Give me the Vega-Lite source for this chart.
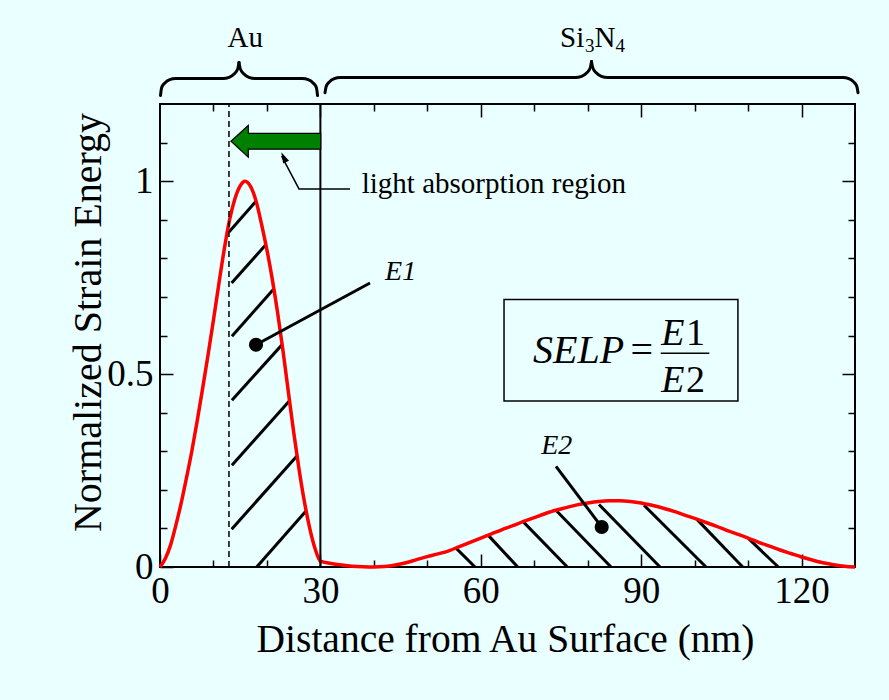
{
  "$schema": "https://vega.github.io/schema/vega-lite/v6.json",
  "width": 695,
  "height": 463,
  "autosize": {"type": "none"},
  "padding": {"left": 160, "top": 104, "right": 34, "bottom": 133},
  "background": "#eaffff",
  "config": {
    "view": {"stroke": "black", "strokeWidth": 2},
    "font": "Liberation Serif",
    "text": {"font": "Liberation Serif", "color": "black"}
  },
  "resolve": {"axis": {"x": "independent", "y": "independent"}},
  "layer": [
    {
      "data": {"values": [
        {"x": 12.9, "y": 0.868, "x2": 17.96, "y2": 0.948},
        {"x": 13.4, "y": 0.736, "x2": 19.83, "y2": 0.836},
        {"x": 13.45, "y": 0.598, "x2": 21.32, "y2": 0.721},
        {"x": 13.45, "y": 0.432, "x2": 22.88, "y2": 0.577},
        {"x": 13.45, "y": 0.264, "x2": 24.19, "y2": 0.43},
        {"x": 13.4, "y": 0.098, "x2": 25.57, "y2": 0.287},
        {"x": 18.09, "y": 0, "x2": 27.31, "y2": 0.145}
      ]},
      "mark": {"type": "rule", "color": "black", "strokeWidth": 3},
      "encoding": {
        "x": {"field": "x", "type": "quantitative", "scale": {"domain": [0, 130], "nice": false, "zero": false},
              "axis": {"orient": "bottom", "values": [10, 20, 40, 50, 70, 80, 100, 110], "tickSize": -7, "tickWidth": 1.5, "tickColor": "black", "labels": false, "domain": false, "grid": false, "title": null}},
        "y": {"field": "y", "type": "quantitative", "scale": {"domain": [0, 1.2], "nice": false, "zero": false},
              "axis": {"orient": "left", "values": [0.1, 0.2, 0.3, 0.4, 0.6, 0.7, 0.8, 0.9, 1.1], "tickSize": -7, "tickWidth": 1.5, "tickColor": "black", "labels": false, "domain": false, "grid": false, "title": null}},
        "x2": {"field": "x2"},
        "y2": {"field": "y2"}
      }
    },
    {
      "data": {"values": [
        {"x": 55.37, "y": 0.049, "x2": 58.92, "y2": 0},
        {"x": 61.41, "y": 0.082, "x2": 66.91, "y2": 0},
        {"x": 67.96, "y": 0.117, "x2": 76.19, "y2": 0},
        {"x": 74.2, "y": 0.145, "x2": 84.36, "y2": 0},
        {"x": 82.12, "y": 0.162, "x2": 93.53, "y2": 0},
        {"x": 90.54, "y": 0.16, "x2": 102.13, "y2": 0},
        {"x": 100.39, "y": 0.124, "x2": 109.0, "y2": 0},
        {"x": 110.05, "y": 0.074, "x2": 115.66, "y2": 0}
      ]},
      "mark": {"type": "rule", "color": "black", "strokeWidth": 3},
      "encoding": {
        "x": {"field": "x", "type": "quantitative",
              "axis": {"orient": "top", "values": [30, 60, 90, 120], "tickSize": -13, "tickWidth": 1.5, "tickColor": "black", "labels": false, "domain": false, "grid": false, "title": null}},
        "y": {"field": "y", "type": "quantitative",
              "axis": {"orient": "right", "values": [0.5, 1], "tickSize": -13, "tickWidth": 1.5, "tickColor": "black", "labels": false, "domain": false, "grid": false, "title": null}},
        "x2": {"field": "x2"},
        "y2": {"field": "y2"}
      }
    },
    {
      "data": {"values": [
        {"seg": "a1", "i": 0, "x": 0.094, "y": 1.222}, {"seg": "a1", "i": 1, "x": 0.299, "y": 1.242}, {"seg": "a1", "i": 2, "x": 0.917, "y": 1.2547}, {"seg": "a1", "i": 3, "x": 1.833, "y": 1.2632}, {"seg": "a1", "i": 4, "x": 2.899, "y": 1.2661}, {"seg": "a1", "i": 5, "x": 11.785, "y": 1.2661}, {"seg": "a1", "i": 6, "x": 12.926, "y": 1.2692}, {"seg": "a1", "i": 7, "x": 13.898, "y": 1.2782}, {"seg": "a1", "i": 8, "x": 14.553, "y": 1.2917}, {"seg": "a1", "i": 9, "x": 14.777, "y": 1.3075},
        {"seg": "a2", "i": 0, "x": 14.777, "y": 1.3075}, {"seg": "a2", "i": 1, "x": 15.002, "y": 1.2917}, {"seg": "a2", "i": 2, "x": 15.657, "y": 1.2782}, {"seg": "a2", "i": 3, "x": 16.629, "y": 1.2692}, {"seg": "a2", "i": 4, "x": 17.77, "y": 1.2661}, {"seg": "a2", "i": 5, "x": 26.655, "y": 1.2661}, {"seg": "a2", "i": 6, "x": 27.722, "y": 1.2632}, {"seg": "a2", "i": 7, "x": 28.638, "y": 1.2547}, {"seg": "a2", "i": 8, "x": 29.256, "y": 1.242}, {"seg": "a2", "i": 9, "x": 29.461, "y": 1.222},
        {"seg": "s1", "i": 0, "x": 30.864, "y": 1.2293}, {"seg": "s1", "i": 1, "x": 31.07, "y": 1.2446}, {"seg": "s1", "i": 2, "x": 31.687, "y": 1.2573}, {"seg": "s1", "i": 3, "x": 32.604, "y": 1.2658}, {"seg": "s1", "i": 4, "x": 33.67, "y": 1.2687}, {"seg": "s1", "i": 5, "x": 77.722, "y": 1.2687}, {"seg": "s1", "i": 6, "x": 78.863, "y": 1.2718}, {"seg": "s1", "i": 7, "x": 79.835, "y": 1.2808}, {"seg": "s1", "i": 8, "x": 80.49, "y": 1.2943}, {"seg": "s1", "i": 9, "x": 80.714, "y": 1.3101},
        {"seg": "s2", "i": 0, "x": 80.714, "y": 1.3101}, {"seg": "s2", "i": 1, "x": 80.939, "y": 1.2943}, {"seg": "s2", "i": 2, "x": 81.594, "y": 1.2808}, {"seg": "s2", "i": 3, "x": 82.566, "y": 1.2718}, {"seg": "s2", "i": 4, "x": 83.707, "y": 1.2687}, {"seg": "s2", "i": 5, "x": 127.759, "y": 1.2687}, {"seg": "s2", "i": 6, "x": 128.825, "y": 1.2658}, {"seg": "s2", "i": 7, "x": 129.742, "y": 1.2573}, {"seg": "s2", "i": 8, "x": 130.359, "y": 1.2446}, {"seg": "s2", "i": 9, "x": 130.565, "y": 1.2293}
      ]},
      "mark": {"type": "line", "color": "black", "strokeWidth": 3, "interpolate": "monotone", "strokeCap": "round", "clip": false},
      "encoding": {
        "x": {"field": "x", "type": "quantitative",
              "axis": {"orient": "top", "values": [10, 20, 40, 50, 70, 80, 100, 110], "tickSize": -7, "tickWidth": 1.5, "tickColor": "black", "labels": false, "domain": false, "grid": false, "title": null}},
        "y": {"field": "y", "type": "quantitative",
              "axis": {"orient": "right", "values": [0.1, 0.2, 0.3, 0.4, 0.6, 0.7, 0.8, 0.9, 1.1], "tickSize": -7, "tickWidth": 1.5, "tickColor": "black", "labels": false, "domain": false, "grid": false, "title": null}},
        "detail": {"field": "seg"},
        "order": {"field": "i", "type": "quantitative"}
      }
    },
    {
      "data": {"values": [
        {"x": 0, "y": 0}, {"x": 1, "y": 0.022}, {"x": 2, "y": 0.058}, {"x": 3, "y": 0.11}, {"x": 4, "y": 0.168}, {"x": 5, "y": 0.234}, {"x": 6, "y": 0.304}, {"x": 7, "y": 0.382}, {"x": 8, "y": 0.465}, {"x": 9, "y": 0.551}, {"x": 10, "y": 0.64}, {"x": 11, "y": 0.733}, {"x": 12, "y": 0.822}, {"x": 13, "y": 0.899}, {"x": 14, "y": 0.954}, {"x": 15, "y": 0.988}, {"x": 15.9, "y": 1.0}, {"x": 17, "y": 0.985}, {"x": 18, "y": 0.947}, {"x": 19, "y": 0.888}, {"x": 20, "y": 0.822}, {"x": 21, "y": 0.746}, {"x": 22, "y": 0.659}, {"x": 23, "y": 0.561}, {"x": 24, "y": 0.455}, {"x": 25, "y": 0.35}, {"x": 26, "y": 0.254}, {"x": 27, "y": 0.17}, {"x": 28, "y": 0.101}, {"x": 29, "y": 0.048}, {"x": 30, "y": 0.015},
        {"x": 32, "y": 0.009}, {"x": 34, "y": 0.005}, {"x": 36, "y": 0.002}, {"x": 38, "y": 0.0005}, {"x": 40, "y": 0}, {"x": 42, "y": 0.0012}, {"x": 44, "y": 0.005}, {"x": 46, "y": 0.011}, {"x": 48, "y": 0.019}, {"x": 50, "y": 0.027}, {"x": 52, "y": 0.034}, {"x": 54, "y": 0.042}, {"x": 56, "y": 0.053}, {"x": 58, "y": 0.064}, {"x": 60, "y": 0.075}, {"x": 62, "y": 0.086}, {"x": 64, "y": 0.097}, {"x": 66, "y": 0.107}, {"x": 68, "y": 0.118}, {"x": 70, "y": 0.128}, {"x": 72, "y": 0.138}, {"x": 74, "y": 0.147}, {"x": 76, "y": 0.154}, {"x": 78, "y": 0.161}, {"x": 80, "y": 0.166}, {"x": 82, "y": 0.17}, {"x": 84, "y": 0.172}, {"x": 86, "y": 0.172}, {"x": 88, "y": 0.17}, {"x": 90, "y": 0.166}, {"x": 92, "y": 0.16}, {"x": 94, "y": 0.153}, {"x": 96, "y": 0.145}, {"x": 98, "y": 0.135}, {"x": 100, "y": 0.126}, {"x": 102, "y": 0.116}, {"x": 104, "y": 0.106}, {"x": 106, "y": 0.095}, {"x": 108, "y": 0.085}, {"x": 110, "y": 0.075}, {"x": 112, "y": 0.064}, {"x": 114, "y": 0.054}, {"x": 116, "y": 0.044}, {"x": 118, "y": 0.035}, {"x": 120, "y": 0.026}, {"x": 122, "y": 0.018}, {"x": 124, "y": 0.011}, {"x": 126, "y": 0.006}, {"x": 128, "y": 0.002}, {"x": 130, "y": 0}
      ]},
      "mark": {"type": "line", "color": "#ff0000", "strokeWidth": 3.5, "interpolate": "monotone"},
      "encoding": {
        "x": {"field": "x", "type": "quantitative",
              "axis": {"orient": "bottom", "values": [0, 30, 60, 90, 120], "format": "d", "tickSize": -13, "tickWidth": 1.5, "tickColor": "black", "domain": false, "grid": false,
                       "labelFont": "Liberation Serif", "labelFontSize": 37, "labelColor": "black", "labelPadding": 48, "labelBaseline": "alphabetic", "labelFlush": false, "labelOverlap": false,
                       "title": "Distance from Au Surface (nm)", "titleFont": "Liberation Serif", "titleFontSize": 39.5, "titleFontWeight": "normal", "titleColor": "black", "titleBaseline": "alphabetic", "titleY": 84, "titleX": 345}},
        "y": {"field": "y", "type": "quantitative",
              "axis": {"orient": "left", "values": [0, 0.5, 1], "format": "~g", "tickSize": -13, "tickWidth": 1.5, "tickColor": "black", "domain": false, "grid": false,
                       "labelFont": "Liberation Serif", "labelFontSize": 37, "labelColor": "black", "labelPadding": 20, "labelAlign": "right", "labelBaseline": "middle", "labelFlush": false, "labelOverlap": false,
                       "title": "Normalized Strain Energy", "titleFont": "Liberation Serif", "titleFontSize": 40, "titleFontWeight": "normal", "titleColor": "black", "titleBaseline": "alphabetic", "titleAngle": -90, "titleAlign": "center", "titleX": -60, "titleY": 218}}
      }
    },
    {
      "data": {"values": [{"x": 30, "y": 0, "y2": 1.2}]},
      "mark": {"type": "rule", "color": "black", "strokeWidth": 2},
      "encoding": {
        "x": {"field": "x", "type": "quantitative", "axis": null},
        "y": {"field": "y", "type": "quantitative", "axis": null},
        "y2": {"field": "y2"}
      }
    },
    {
      "data": {"values": [{"x": 12.9, "y": 0, "y2": 1.2}]},
      "mark": {"type": "rule", "color": "black", "strokeWidth": 1.5, "strokeDash": [6, 4]},
      "encoding": {
        "x": {"field": "x", "type": "quantitative", "axis": null},
        "y": {"field": "y", "type": "quantitative", "axis": null},
        "y2": {"field": "y2"}
      }
    },
    {
      "data": {"values": [{"x": 21.67, "y": 1.1033}]},
      "mark": {"type": "point", "filled": true, "fill": "#008000", "fillOpacity": 1, "stroke": "black", "strokeWidth": 1.2, "strokeOpacity": 1, "size": 8046,
               "shape": "M -1 0 L -0.614 -0.353 L -0.614 -0.175 L 1 -0.175 L 1 0.175 L -0.614 0.175 L -0.614 0.353 Z"},
      "encoding": {
        "x": {"field": "x", "type": "quantitative", "axis": null},
        "y": {"field": "y", "type": "quantitative", "axis": null}
      }
    },
    {
      "data": {"values": [{"i": 0, "x": 35.54, "y": 0.98}, {"i": 1, "x": 26.0, "y": 0.98}, {"i": 2, "x": 22.75, "y": 1.065}]},
      "mark": {"type": "line", "color": "black", "strokeWidth": 1.5},
      "encoding": {
        "x": {"field": "x", "type": "quantitative", "axis": null},
        "y": {"field": "y", "type": "quantitative", "axis": null},
        "order": {"field": "i", "type": "quantitative"}
      }
    },
    {
      "data": {"values": [{"x": 22.69, "y": 1.075}]},
      "mark": {"type": "point", "filled": true, "fill": "black", "fillOpacity": 1, "stroke": null, "size": 484, "angle": -25.8,
               "shape": "M 0 0 L 0.3 1 L -0.3 1 Z"},
      "encoding": {
        "x": {"field": "x", "type": "quantitative", "axis": null},
        "y": {"field": "y", "type": "quantitative", "axis": null}
      }
    },
    {
      "data": {"values": [{"x": 37.73, "y": 0.969, "t": "light absorption region"}]},
      "mark": {"type": "text", "fontSize": 29, "align": "left", "baseline": "alphabetic", "font": "Liberation Serif"},
      "encoding": {
        "x": {"field": "x", "type": "quantitative", "axis": null},
        "y": {"field": "y", "type": "quantitative", "axis": null},
        "text": {"field": "t"}
      }
    },
    {
      "data": {"values": [
        {"x": 17.96, "y": 0.576, "x2": 39.28, "y2": 0.736},
        {"x": 82.62, "y": 0.1036, "x2": 74.07, "y2": 0.261}
      ]},
      "mark": {"type": "rule", "color": "black", "strokeWidth": 3},
      "encoding": {
        "x": {"field": "x", "type": "quantitative", "axis": null},
        "y": {"field": "y", "type": "quantitative", "axis": null},
        "x2": {"field": "x2"},
        "y2": {"field": "y2"}
      }
    },
    {
      "data": {"values": [{"x": 17.96, "y": 0.576}, {"x": 82.62, "y": 0.1036}]},
      "mark": {"type": "point", "shape": "circle", "filled": true, "fill": "black", "fillOpacity": 1, "size": 200},
      "encoding": {
        "x": {"field": "x", "type": "quantitative", "axis": null},
        "y": {"field": "y", "type": "quantitative", "axis": null}
      }
    },
    {
      "data": {"values": [{"x": 45.0, "y": 0.743, "t": "E1"}, {"x": 74.2, "y": 0.2938, "t": "E2"}]},
      "mark": {"type": "text", "fontSize": 28, "fontStyle": "italic", "align": "center", "baseline": "alphabetic", "font": "Liberation Serif"},
      "encoding": {
        "x": {"field": "x", "type": "quantitative", "axis": null},
        "y": {"field": "y", "type": "quantitative", "axis": null},
        "text": {"field": "t"}
      }
    },
    {
      "data": {"values": [{"x": 64.35, "y": 0.43, "x2": 108.1, "y2": 0.693}]},
      "mark": {"type": "rect", "fill": null, "fillOpacity": 0, "stroke": "black", "strokeWidth": 1.5},
      "encoding": {
        "x": {"field": "x", "type": "quantitative", "axis": null},
        "y": {"field": "y", "type": "quantitative", "axis": null},
        "x2": {"field": "x2"},
        "y2": {"field": "y2"}
      }
    },
    {
      "data": {"values": [{"x": 78.3, "y": 0.5277, "t": "SELP"}]},
      "mark": {"type": "text", "fontSize": 40, "fontStyle": "italic", "align": "center", "baseline": "alphabetic", "font": "Liberation Serif"},
      "encoding": {
        "x": {"field": "x", "type": "quantitative", "axis": null},
        "y": {"field": "y", "type": "quantitative", "axis": null},
        "text": {"field": "t"}
      }
    },
    {
      "data": {"values": [{"x": 90.1, "y": 0.5277, "t": "="}]},
      "mark": {"type": "text", "fontSize": 40, "align": "center", "baseline": "alphabetic", "font": "Liberation Serif"},
      "encoding": {
        "x": {"field": "x", "type": "quantitative", "axis": null},
        "y": {"field": "y", "type": "quantitative", "axis": null},
        "text": {"field": "t"}
      }
    },
    {
      "data": {"values": [{"x": 93.66, "x2": 102.75, "y": 0.554}]},
      "mark": {"type": "rule", "color": "black", "strokeWidth": 1.5},
      "encoding": {
        "x": {"field": "x", "type": "quantitative", "axis": null},
        "x2": {"field": "x2"},
        "y": {"field": "y", "type": "quantitative", "axis": null}
      }
    },
    {
      "data": {"values": [{"x": 98.1, "y": 0.5744, "t": "E"}, {"x": 98.1, "y": 0.4534, "t": "E"}]},
      "mark": {"type": "text", "fontSize": 38, "fontStyle": "italic", "align": "right", "baseline": "alphabetic", "font": "Liberation Serif"},
      "encoding": {
        "x": {"field": "x", "type": "quantitative", "axis": null},
        "y": {"field": "y", "type": "quantitative", "axis": null},
        "text": {"field": "t"}
      }
    },
    {
      "data": {"values": [{"x": 98.4, "y": 0.5744, "t": "1"}, {"x": 98.4, "y": 0.4534, "t": "2"}]},
      "mark": {"type": "text", "fontSize": 38, "align": "left", "baseline": "alphabetic", "font": "Liberation Serif"},
      "encoding": {
        "x": {"field": "x", "type": "quantitative", "axis": null},
        "y": {"field": "y", "type": "quantitative", "axis": null},
        "text": {"field": "t"}
      }
    },
    {
      "data": {"values": [{"x": 15.94, "y": 1.3472, "t": "Au"}]},
      "mark": {"type": "text", "fontSize": 29, "align": "center", "baseline": "alphabetic", "font": "Liberation Serif", "clip": false},
      "encoding": {
        "x": {"field": "x", "type": "quantitative", "axis": null},
        "y": {"field": "y", "type": "quantitative", "axis": null},
        "text": {"field": "t"}
      }
    },
    {
      "data": {"values": [{"x": 74.82, "y": 1.3472, "t": "Si"}, {"x": 81.28, "y": 1.3472, "t": "N"}]},
      "mark": {"type": "text", "fontSize": 29, "align": "left", "baseline": "alphabetic", "font": "Liberation Serif", "clip": false},
      "encoding": {
        "x": {"field": "x", "type": "quantitative", "axis": null},
        "y": {"field": "y", "type": "quantitative", "axis": null},
        "text": {"field": "t"}
      }
    },
    {
      "data": {"values": [{"x": 79.5, "y": 1.334, "t": "3"}, {"x": 85.2, "y": 1.334, "t": "4"}]},
      "mark": {"type": "text", "fontSize": 19, "align": "left", "baseline": "alphabetic", "font": "Liberation Serif", "clip": false},
      "encoding": {
        "x": {"field": "x", "type": "quantitative", "axis": null},
        "y": {"field": "y", "type": "quantitative", "axis": null},
        "text": {"field": "t"}
      }
    }
  ]
}
